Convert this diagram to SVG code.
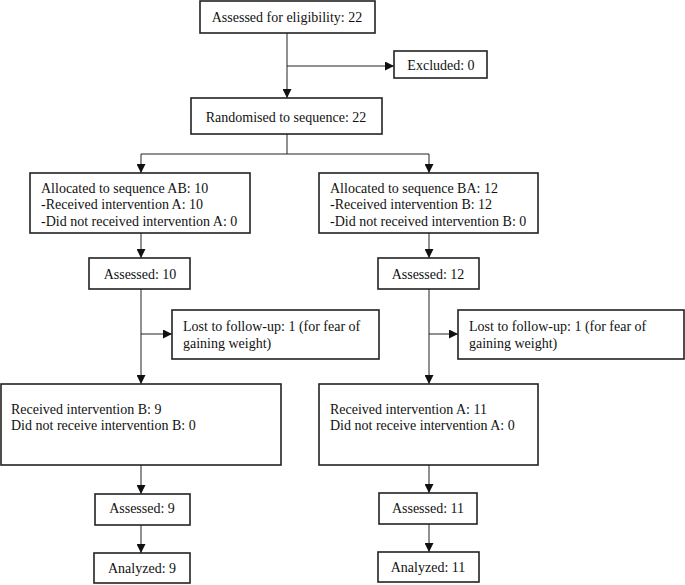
<svg xmlns="http://www.w3.org/2000/svg" width="685" height="585" viewBox="0 0 685 585">
<style>
.box{fill:#fff;stroke:#222;stroke-width:1.6}
.ln{fill:none;stroke:#222;stroke-width:1}
text{font-family:"Liberation Serif","Times New Roman",serif;font-size:14px;fill:#111}
.c{text-anchor:middle}
</style>
<defs>
<marker id="ah" viewBox="0 0 10 10" refX="10" refY="5" markerWidth="9" markerHeight="9" markerUnits="userSpaceOnUse" orient="auto">
<path d="M0,0 L10,5 L0,10 Z" fill="#111"/>
</marker>
</defs>
<g id="connectors">
<path class="ln" d="M287,33 V98" marker-end="url(#ah)"/>
<path class="ln" d="M287,66 H394" marker-end="url(#ah)"/>
<path class="ln" d="M287,134 V154 M141,154 H429"/>
<path class="ln" d="M141,154 V173" marker-end="url(#ah)"/>
<path class="ln" d="M429,154 V173" marker-end="url(#ah)"/>
<path class="ln" d="M141,233 V258" marker-end="url(#ah)"/>
<path class="ln" d="M429,233 V258" marker-end="url(#ah)"/>
<path class="ln" d="M141,289 V384" marker-end="url(#ah)"/>
<path class="ln" d="M429,289 V384" marker-end="url(#ah)"/>
<path class="ln" d="M141,334 H172" marker-end="url(#ah)"/>
<path class="ln" d="M429,334 H458" marker-end="url(#ah)"/>
<path class="ln" d="M141,465 V494" marker-end="url(#ah)"/>
<path class="ln" d="M429,465 V493" marker-end="url(#ah)"/>
<path class="ln" d="M141,525 V553" marker-end="url(#ah)"/>
<path class="ln" d="M429,524 V552" marker-end="url(#ah)"/>
</g>
<g id="n-eligibility"><rect class="box" x="200" y="1" width="175" height="32"/><text class="c" x="287" y="22">Assessed for eligibility: 22</text></g>
<g id="n-excluded"><rect class="box" x="394" y="51" width="93" height="27"/><text class="c" x="441" y="70">Excluded: 0</text></g>
<g id="n-randomised"><rect class="box" x="191" y="98" width="191" height="36"/><text class="c" x="286" y="122">Randomised to sequence: 22</text></g>
<g id="n-alloc-ab"><rect class="box" x="30" y="173" width="220" height="60"/><text x="41" y="193">Allocated to sequence AB: 10</text><text x="41" y="209">-Received intervention A: 10</text><text x="41" y="226">-Did not received intervention A: 0</text></g>
<g id="n-alloc-ba"><rect class="box" x="319" y="173" width="219" height="60"/><text x="330" y="193">Allocated to sequence BA: 12</text><text x="330" y="209">-Received intervention B: 12</text><text x="330" y="226">-Did not received intervention B: 0</text></g>
<g id="n-assessed-10"><rect class="box" x="89" y="258" width="101" height="31"/><text class="c" x="140" y="279">Assessed: 10</text></g>
<g id="n-assessed-12"><rect class="box" x="378" y="258" width="101" height="31"/><text class="c" x="428" y="279">Assessed: 12</text></g>
<g id="n-lost-left"><rect class="box" x="172" y="310" width="207" height="49"/><text x="183" y="331">Lost to follow-up: 1 (for fear of</text><text x="183" y="348">gaining weight)</text></g>
<g id="n-lost-right"><rect class="box" x="458" y="310" width="226" height="49"/><text x="469" y="331">Lost to follow-up: 1 (for fear of</text><text x="469" y="348">gaining weight)</text></g>
<g id="n-received-b"><rect class="box" x="1" y="384" width="280" height="81"/><text x="11" y="414">Received intervention B: 9</text><text x="11" y="430">Did not receive intervention B: 0</text></g>
<g id="n-received-a"><rect class="box" x="319" y="384" width="219" height="81"/><text x="330" y="414">Received intervention A: 11</text><text x="330" y="430">Did not receive intervention A: 0</text></g>
<g id="n-assessed-9"><rect class="box" x="95" y="494" width="95" height="31"/><text class="c" x="142" y="513">Assessed: 9</text></g>
<g id="n-assessed-11"><rect class="box" x="379" y="493" width="98" height="31"/><text class="c" x="428" y="513">Assessed: 11</text></g>
<g id="n-analyzed-9"><rect class="box" x="94" y="553" width="96" height="30"/><text class="c" x="142" y="573">Analyzed: 9</text></g>
<g id="n-analyzed-11"><rect class="box" x="378" y="552" width="101" height="30"/><text class="c" x="428" y="572">Analyzed: 11</text></g>
</svg>
